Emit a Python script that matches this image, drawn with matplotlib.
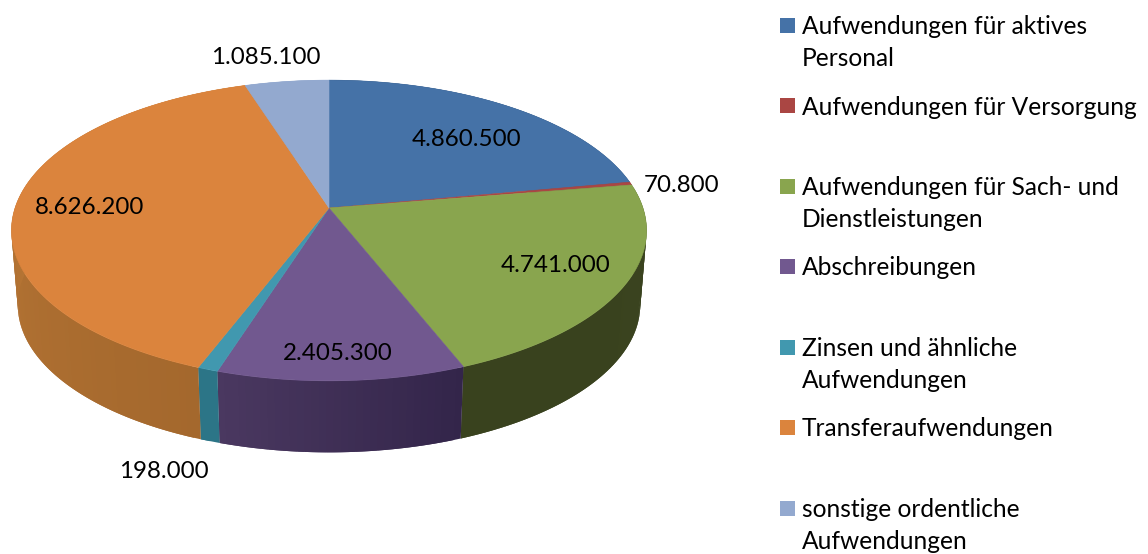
import matplotlib
matplotlib.use('Agg')
import matplotlib.pyplot as plt
from matplotlib.patches import Polygon, Rectangle
from matplotlib.colors import to_rgb
import numpy as np

plt.rcParams['font.family'] = ['Lato', 'DejaVu Sans']

names = ['Aufwendungen für aktives\nPersonal', 'Aufwendungen für Versorgung',
         'Aufwendungen für Sach- und\nDienstleistungen', 'Abschreibungen',
         'Zinsen und ähnliche\nAufwendungen', 'Transferaufwendungen',
         'sonstige ordentliche\nAufwendungen']
values = [4860500, 70800, 4741000, 2405300, 198000, 8626200, 1085100]

top_colors = ['#4572A7', '#AA4643', '#89A54E', '#71588F', '#4198AF', '#DB843D', '#93A9CF']
# side colours, first one at the start of the slice (clockwise), second at the end
side_start = ['#2f4d70', '#6e2d2b', '#3a431f', '#33254a', '#2c7587', '#a4682d', '#93A9CF']
side_end = ['#2f4d70', '#6e2d2b', '#39421e', '#4a3860', '#2c7587', '#c47f3a', '#93A9CF']

# pixel layout of the chart
cx, cy = 329, 208
radius = 314
persp = 0.1495
tilt = 147
low_scale = 0.98
low_shift = 75

label_pos = [(466, 139), (682, 185), (556, 266), (338, 354), (164, 471), (90, 208), (266, 58)]
legend_y = [25, 106, 186, 266, 347, 427, 508]
legend_box_y = [25, 105, 186, 266, 347, 427, 508]


def top_xy(theta):
    # theta clockwise from 12 o'clock, circle seen in perspective
    xx = np.sin(theta)
    yy = np.cos(theta)
    d = 1 + persp * yy
    return cx + radius * xx / d, cy - tilt * yy / d


def low_xy(theta):
    x, y = top_xy(theta)
    return cx + (x - cx) * low_scale, cy + (y - cy) * low_scale + low_shift


def fmt(v):
    return f'{v:,}'.replace(',', '.')


fig = plt.figure(figsize=(11.48, 5.54), dpi=100)
ax = fig.add_axes([0, 0, 1, 1])
ax.set_xlim(0, 1148)
ax.set_ylim(554, 0)
ax.axis('off')

total = sum(values)
edges = np.concatenate([[0], np.cumsum(values)]) / total * 2 * np.pi

# side wall first, the top covers whatever is behind
for i in range(len(values)):
    n = max(int((edges[i + 1] - edges[i]) / 0.02), 1)
    steps = np.linspace(edges[i], edges[i + 1], n + 1)
    c0 = np.array(to_rgb(side_start[i]))
    c1 = np.array(to_rgb(side_end[i]))
    for j in range(n):
        t = j / max(n - 1, 1)
        col = c0 + (c1 - c0) * t
        # strips overlap the next one so no light seams show
        a, b = steps[j], steps[min(j + 2, n)]
        pts = [top_xy(a), top_xy(b), low_xy(b), low_xy(a)]
        ax.add_patch(Polygon(pts, closed=True, facecolor=col, edgecolor='none'))

for i in range(len(values)):
    steps = np.linspace(edges[i], edges[i + 1], 120)
    xs, ys = top_xy(steps)
    pts = [(cx, cy)] + list(zip(xs, ys))
    ax.add_patch(Polygon(pts, closed=True, facecolor=top_colors[i], edgecolor=top_colors[i], lw=0.4))

for v, (x, y) in zip(values, label_pos):
    ax.text(x, y, fmt(v), ha='center', va='center', fontsize=17.4, color='black')

for name, col, y, by in zip(names, top_colors, legend_y, legend_box_y):
    ax.add_patch(Rectangle((780, by - 7), 15, 15, facecolor=col, edgecolor='none'))
    lines = name.split('\n')
    for k, line in enumerate(lines):
        ax.text(802, y + 1.5 + k * 32, line, ha='left', va='center', fontsize=17.65, color='black')

fig.savefig('out.png', dpi=100)
